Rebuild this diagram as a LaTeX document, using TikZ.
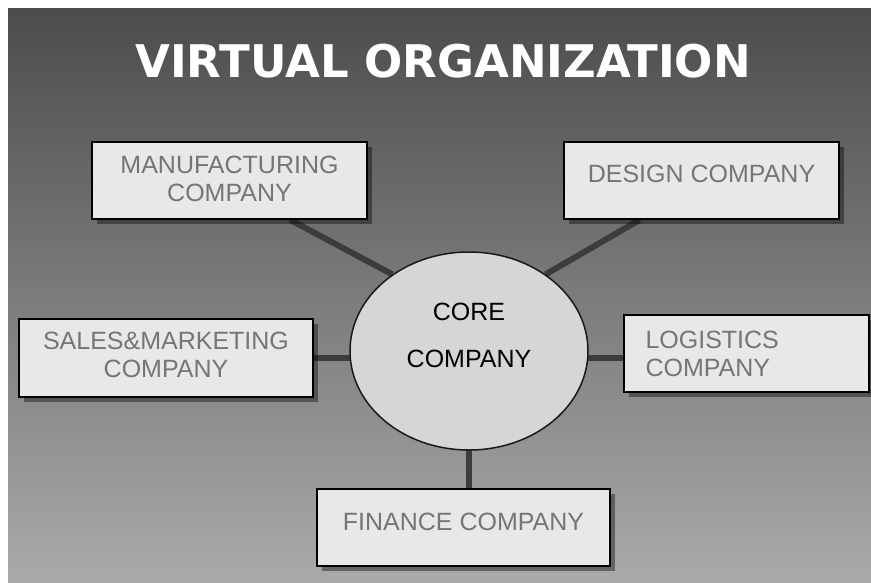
\documentclass[tikz,border=0pt]{standalone}
\usepackage{fontspec}
\setmainfont{Liberation Sans}
\newfontfamily\titlefont{DejaVu Sans}
\usetikzlibrary{shapes.geometric,shadows,calc}
\pgfdeclarelayer{bg}
\pgfdeclarelayer{lines}
\pgfsetlayers{bg,lines,main}
\definecolor{boxfill}{HTML}{E8E8E8}
\definecolor{boxtext}{HTML}{757575}
\definecolor{corefill}{HTML}{D6D6D6}
\definecolor{linkc}{HTML}{3C3C3C}
\definecolor{bgtop}{HTML}{4C4C4C}
\definecolor{bgbot}{HTML}{AAAAAA}
\tikzset{
  company/.style={draw=black, line width=2pt, fill=boxfill, text=boxtext,
    font=\fontsize{25}{28}\selectfont, align=center, inner sep=0pt,
    drop shadow={shadow xshift=5pt, shadow yshift=-5pt, fill=black, opacity=0.4}},
  link/.style={draw=linkc, line width=6pt},
  corestyle/.style={ellipse, draw=black!90, line width=1.5pt, fill=corefill,
    text=black, font=\fontsize{25}{47}\selectfont, align=center, inner sep=0pt},
  titletext/.style={font=\titlefont\bfseries\fontsize{45}{50}\selectfont, anchor=base, inner sep=0pt}
}
\begin{document}
\begin{tikzpicture}[x=1pt,y=-1pt]
\useasboundingbox (0,0) rectangle (871,582);
\begin{pgfonlayer}{bg}
  \fill[top color=bgtop, bottom color=bgbot] (8,8) rectangle (871,582);
\end{pgfonlayer}

% title
\node[titletext, text=white] (title) at (443,77) {VIRTUAL ORGANIZATION};

% companies
\node[company, minimum width=275pt, minimum height=77pt, text depth=4pt] (mfg) at (229.5,180.5)
  {MANUFACTURING\\COMPANY};
\node[company, minimum width=275pt, minimum height=77pt, text depth=13pt] (design) at (701.5,180.5)
  {DESIGN COMPANY};
\node[company, minimum width=294pt, minimum height=78pt, text depth=6pt] (sales) at (166,358)
  {SALES\&MARKETING\\COMPANY};
\node[company, minimum height=77pt, align=left, text width=201pt, inner xsep=22pt] (logistics) at (746,353.5)
  {LOGISTICS\\COMPANY};
\node[company, minimum width=293pt, minimum height=77pt, text depth=12pt] (finance) at (463.5,527.5)
  {FINANCE COMPANY};

% core
\node[corestyle, minimum width=238pt, minimum height=198pt, text depth=32pt] (core) at (469,351)
  {CORE\\COMPANY};

% connectors
\begin{pgfonlayer}{lines}
  \draw[link] ($(mfg.south west)!0.72!(mfg.south east)$) -- (core.135);
  \draw[link] ($(design.south west)!0.276!(design.south east)$) -- (core.45);
  \draw[link] (core.center |- sales.east) -- (sales.east);
  \draw[link] (core.center |- sales.east) -- (logistics.west |- sales.east);
  \draw[link] (core.center) -- (finance.north -| core.center);
\end{pgfonlayer}
\end{tikzpicture}
\end{document}
